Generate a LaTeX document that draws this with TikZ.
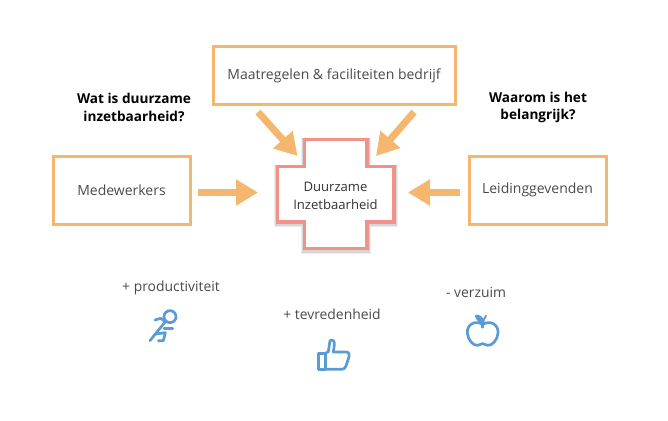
\documentclass[tikz,border=0pt]{standalone}
\usepackage{fontspec}
\setmainfont{Open Sans}
\usetikzlibrary{arrows.meta,calc}
\definecolor{boxor}{HTML}{F5B66E}
\definecolor{crossred}{HTML}{F0918A}
\definecolor{iconblue}{HTML}{5B9BD5}
\definecolor{txt}{HTML}{4A4A4A}
\tikzset{
  x=1pt,y=-1pt,
  actor/.style={draw=boxor,line width=3pt,minimum height=0,text=txt,font=\fontsize{14}{16}\selectfont,inner sep=0pt,anchor=center},
  bigarrow/.style={draw=boxor,line width=7pt,-{Triangle[length=22pt,width=25pt]},shorten >=0pt},
  question/.style={font=\fontsize{13.6}{17.5}\selectfont\bfseries,text=black,align=center},
  benefit/.style={font=\fontsize{13.9}{16}\selectfont,text=txt},
  icon/.style={draw=iconblue,line width=2.7pt,line join=round,line cap=round,fill=none},
  crossline/.style={draw=crossred,line width=3.8pt,fill=white,line join=miter},
}
\begin{document}
\begin{tikzpicture}
\useasboundingbox (0,0) rectangle (668,420);
\def\crosspath{(304.5,139.5) -- (367,139.5) -- (367,166.5) -- (394,166.5) -- (394,222) -- (367,222) -- (367,248.5) -- (304.5,248.5) -- (304.5,222) -- (277.5,222) -- (277.5,166.5) -- (304.5,166.5) -- cycle}
% shadow
\begin{scope}[shift={(0,1.5)}]
\draw[draw=black,opacity=.07,line width=7pt,line join=miter] \crosspath;
\draw[draw=black,opacity=.10,line width=5.5pt,line join=miter] \crosspath;
\end{scope}
\draw[crossline] \crosspath;
\node[align=center,text=black!80,font=\fontsize{13.1}{18.2}\selectfont] (dz) at (335.5,195.5) {Duurzame\\Inzetbaarheid};

\node[actor,minimum width=242pt,minimum height=57pt] (top) at (334,75.5) {\raisebox{-1pt}{Maatregelen \& faciliteiten bedrijf}};
\node[actor,minimum width=137pt,minimum height=68pt] (med) at (121.5,190) {\raisebox{-1.5pt}{Medewerkers}};
\node[actor,minimum width=137pt,minimum height=68pt] (lei) at (537.5,190) {\raisebox{-1.5pt}{Leidinggevenden}};

\node[question] (q1) at (134,107.5) {Wat is duurzame\\inzetbaarheid?};
\node[question] (q2) at (538,107.5) {Waarom is het\\belangrijk?};

\coordinate (a1s) at (258,112);
\coordinate (a1e) at (297.5,156);
\coordinate (a2s) at (414,112);
\coordinate (a2e) at (376,156);
\coordinate (a3s) at (198,192.5);
\coordinate (a3e) at (258,192.5);
\coordinate (a4s) at (460,192.5);
\coordinate (a4e) at (408,192.5);
\draw[bigarrow] (a1s) -- (a1e);
\draw[bigarrow] (a2s) -- (a2e);
\draw[bigarrow] (a3s) -- (a3e);
\draw[bigarrow] (a4s) -- (a4e);

\node[benefit] (b1) at (171,288) {+ productiviteit};
\node[benefit] (b2) at (332,314) {+ tevredenheid};
\node[benefit] (b3) at (476,292) {- verzuim};

% runner
\begin{scope}[shift={(120,270)},x=0.3333pt,y=-0.3333pt]
\draw[icon] (150,140) circle (18);
\draw[icon] (136,155) -- (90,212);
\draw[icon] (105,150) -- (122,145) -- (136,155);
\draw[icon] (132,175) -- (158,175);
\draw[icon] (108,192) -- (136,188) -- (130,212) -- (115,212);
\end{scope}
% thumb
\begin{scope}[shift={(280,300)},x=0.3333pt,y=-0.3333pt]
\draw[icon] (116,160) rectangle (136,208);
\draw[icon] (136,160) -- (145,155) -- (150,122) .. controls (158,116) and (165,125) .. (163,135) -- (160,156) -- (198,156) .. controls (208,156) and (209,165) .. (207,170) -- (198,198) .. controls (195,206) and (190,208) .. (185,208) -- (136,208);
\end{scope}
% apple
\begin{scope}[shift={(430,275)},x=0.3333pt,y=-0.3333pt]
\draw[icon] (158,148) .. controls (132,134) and (110,150) .. (112,175) .. controls (114,195) and (130,213) .. (143,211) .. controls (150,210) and (152,206) .. (158,206) .. controls (164,206) and (166,210) .. (173,211) .. controls (186,213) and (202,195) .. (204,175) .. controls (206,150) and (184,134) .. (158,148) -- cycle;
\draw[icon] (158,148) -- (158,157);
\draw[icon,fill=iconblue,line width=1.5pt] (137,122) .. controls (148,120) and (160,128) .. (162,142) .. controls (150,144) and (140,135) .. (137,122) -- cycle;
\draw[icon,line width=1.8pt] (160,138) -- (168,122);
\end{scope}
\end{tikzpicture}
\end{document}
